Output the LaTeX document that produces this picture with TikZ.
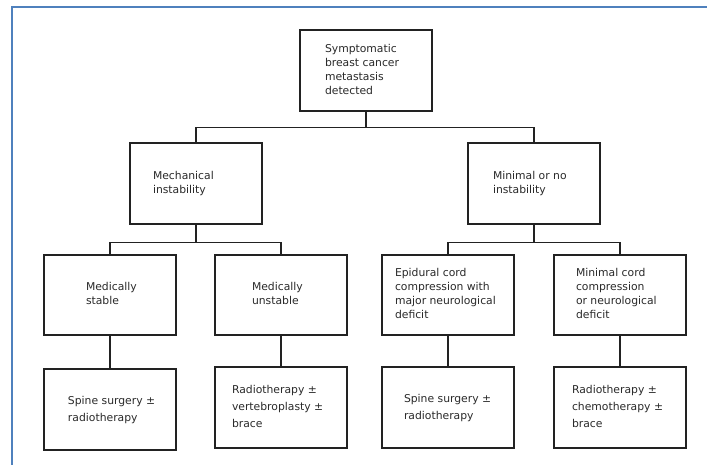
\documentclass[tikz,border=0pt]{standalone}
\usepackage{fontspec}
\setmainfont{DejaVu Sans}
\definecolor{framecol}{HTML}{4F81BD}
\definecolor{inkcol}{HTML}{222222}
\definecolor{txtcol}{HTML}{2A2A2A}
\newcommand\bxt[3][1]{\makebox[132bp][l]{\hspace*{#2bp}\renewcommand\arraystretch{#1}\begin{tabular}{@{}l@{}}#3\end{tabular}}}
\begin{document}
\begin{tikzpicture}[x=1bp,y=-1bp,
  box/.style={draw=inkcol,line width=1.4bp,minimum width=132bp,minimum height=81bp,inner sep=0pt,
    font=\fontsize{10.8bp}{14bp}\selectfont,text=txtcol},
  conn/.style={draw=inkcol,line width=1.4bp}]
\useasboundingbox (0,0) rectangle (707,465);
\fill[white] (0,0) rectangle (707,465);
\draw[framecol,line width=2bp] (11.5,466) -- (11.5,7.5) -- (708,7.5);

% level 1
\node[box] (top) at (366,70.5) {\bxt{25}{Symptomatic\\breast cancer\\metastasis\\detected}};
% level 2
\node[box] (mech) at (196,183.5) {\bxt{23}{Mechanical\\instability}};
\node[box] (mini) at (534,183.5) {\bxt{25}{Minimal or no\\instability}};
% level 3
\node[box,minimum height=80bp] (mstab) at (110,295) {\bxt{42}{Medically\\stable}};
\node[box,minimum height=80bp] (munst) at (281,295) {\bxt{37}{Medically\\unstable}};
\node[box,minimum height=80bp] (epid) at (448,295) {\bxt{13}{Epidural cord\\compression with\\major neurological\\deficit}};
\node[box,minimum height=80bp] (mcord) at (620,295) {\bxt{22}{Minimal cord\\compression\\or neurological\\deficit}};
% level 4
\node[box] (t1) at (110,409.5) {\bxt[1.22]{24}{Spine surgery ±\\radiotherapy}};
\node[box] (t2) at (281,407.5) {\bxt[1.22]{17}{Radiotherapy ±\\vertebroplasty ±\\brace}};
\node[box] (t3) at (448,407.5) {\bxt[1.22]{22}{Spine surgery ±\\radiotherapy}};
\node[box] (t4) at (620,407.5) {\bxt[1.22]{18}{Radiotherapy ±\\chemotherapy ±\\brace}};

% connectors
\draw[conn] (top.south) -- ++(0,16) coordinate (j1);
\draw[conn] (mech.north) |- (j1) -| (mini.north);
\draw[conn] (mech.south) -- ++(0,18) coordinate (j2);
\draw[conn] (mstab.north) |- (j2) -| (munst.north);
\draw[conn] (mini.south) -- ++(0,18) coordinate (j3);
\draw[conn] (epid.north) |- (j3) -| (mcord.north);
\draw[conn] (mstab.south) -- (t1.north);
\draw[conn] (munst.south) -- (t2.north);
\draw[conn] (epid.south) -- (t3.north);
\draw[conn] (mcord.south) -- (t4.north);
\end{tikzpicture}
\end{document}
